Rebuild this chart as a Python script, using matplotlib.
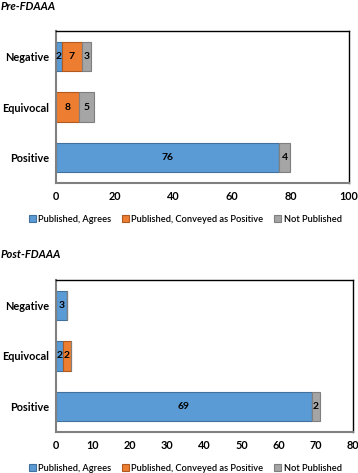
import matplotlib
matplotlib.use("Agg")
import matplotlib.pyplot as plt
import numpy as np

categories = ["Positive", "Equivocal", "Negative"]
series_names = ["Published, Agrees", "Published, Conveyed as Positive", "Not Published"]

pre_agrees = [76, 0, 2]
pre_conveyed = [0, 8, 7]
pre_notpub = [4, 5, 3]

post_agrees = [69, 2, 3]
post_conveyed = [0, 2, 0]
post_notpub = [2, 0, 0]

pre_ticks = [0, 20, 40, 60, 80, 100]
post_ticks = [0, 10, 20, 30, 40, 50, 60, 70, 80]

colors = ["#5B9BD5", "#ED7D31", "#A5A5A5"]
edges = ["#41719C", "#AE5A21", "#7F7F7F"]

plt.rcParams['font.family'] = ['Lato', 'DejaVu Sans']

fig = plt.figure(figsize=(3.58, 4.73), dpi=100)

def panel(rect, title, title_y, data, ticks, legend_y):
    ax = fig.add_axes(rect)
    y = np.arange(len(categories))
    left = np.zeros(len(categories))
    for i, vals in enumerate(data):
        vals = np.array(vals, dtype=float)
        bars = ax.barh(y, vals, left=left, height=0.58, color=colors[i],
                       edgecolor=edges[i], linewidth=0.8, label=series_names[i])
        for b, v, l in zip(bars, vals, left):
            if v > 0:
                ax.text(l + v / 2, b.get_y() + b.get_height() / 2, f"{int(v)}",
                        ha="center", va="center", fontsize=7.5, fontweight="bold",
                        color="black")
        left = left + vals
    ax.set_ylim(-0.5, 2.5)
    ax.set_xlim(ticks[0], ticks[-1])
    ax.set_xticks(ticks)
    ax.set_yticks(y)
    ax.set_yticklabels(categories, fontsize=7.8, fontweight="bold")
    ax.tick_params(axis="x", labelsize=7.8, length=0, pad=6)
    ax.tick_params(axis="y", length=0, pad=5)
    for lab in ax.get_xticklabels():
        lab.set_fontweight("bold")
    for s in ["top", "right"]:
        ax.spines[s].set_color("black")
        ax.spines[s].set_linewidth(1.0)
    for s in ["left", "bottom"]:
        ax.spines[s].set_color("#808080")
        ax.spines[s].set_linewidth(1.5)
    fig.text(0.003, title_y, title, fontsize=8, fontstyle="italic",
             fontweight="bold", ha="left", va="center")
    handles, labels = ax.get_legend_handles_labels()
    fig.legend(handles, labels, loc="center", bbox_to_anchor=(0.517, legend_y),
               ncol=3, frameon=False, handlelength=0.75, handleheight=0.75,
               handletextpad=0.3, columnspacing=1.1,
               prop={"size": 6.7, "weight": "semibold"})
    return ax

panel([0.156, 0.613, 0.819, 0.3214], "Pre-FDAAA", 1 - 6 / 473,
      [pre_agrees, pre_conveyed, pre_notpub], pre_ticks, 1 - 219 / 473)
panel([0.156, 0.0867, 0.830, 0.3214], "Post-FDAAA", 1 - 254 / 473,
      [post_agrees, post_conveyed, post_notpub], post_ticks, 1 - 468 / 473)

fig.savefig("out.png", dpi=100)
